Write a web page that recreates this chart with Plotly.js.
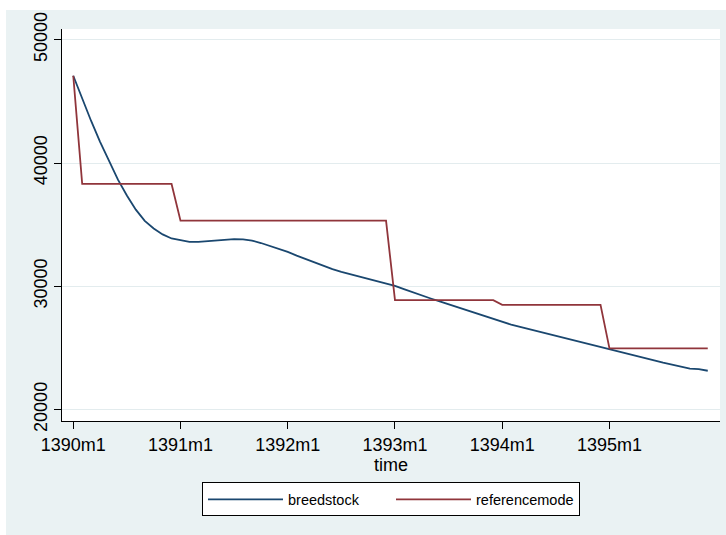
<!DOCTYPE html>
<html>
<head>
<meta charset="utf-8">
<script src="https://cdn.plot.ly/plotly-3.0.1.min.js"></script>
<style>
  html, body { margin: 0; padding: 0; background: #ffffff; }
  #chart { position: absolute; left: 6px; top: 10px; width: 720px; height: 525px; }
</style>
</head>
<body>
<div id="chart"></div>
<script>
// Month positions: 0 = 1390m1 ... 71 = 1395m12
const monthIndex = Array.from({length: 72}, (_, i) => i);

const tickPositions = [0, 12, 24, 36, 48, 60];
const tickLabels = ["1390m1", "1391m1", "1392m1", "1393m1", "1394m1", "1395m1"];
const yTicks = [20000, 30000, 40000, 50000];
const yTickLabels = ["20000", "30000", "40000", "50000"];

const breedstock = [
  47080, 45220, 43410, 41720, 40140, 38650, 37360, 36220, 35310, 34690, 34210, 33880,
  33750, 33610, 33600, 33660, 33710, 33770, 33820, 33810, 33710, 33510, 33280, 33040,
  32790, 32490, 32210, 31920, 31630, 31390, 31170, 30980, 30800, 30610, 30420, 30240,
  30040, 29770, 29500, 29250, 29010, 28770, 28530, 28300, 28060, 27820, 27570, 27330,
  27090, 26890, 26710, 26530, 26350, 26180, 25990, 25810, 25630, 25440, 25280, 25120,
  24960, 24750, 24560, 24360, 24180, 24000, 23810, 23650, 23490, 23320, 23280, 23150
];

const referencemode = [
  47080, 38300, 38300, 38300, 38300, 38300, 38300, 38300, 38300, 38300, 38300, 38300,
  35320, 35320, 35320, 35320, 35320, 35320, 35320, 35320, 35320, 35320, 35320, 35320,
  35320, 35320, 35320, 35320, 35320, 35320, 35320, 35320, 35320, 35320, 35320, 35320,
  28880, 28880, 28880, 28880, 28880, 28880, 28880, 28880, 28880, 28880, 28880, 28880,
  28500, 28500, 28500, 28500, 28500, 28500, 28500, 28500, 28500, 28500, 28500, 28500,
  24960, 24960, 24960, 24960, 24960, 24960, 24960, 24960, 24960, 24960, 24960, 24960
];

const FONT = '"Liberation Sans", Arial, Helvetica, sans-serif';

const traces = [
  { x: monthIndex, y: breedstock, name: "breedstock", type: "scatter", mode: "lines",
    line: { color: "#1a476f", width: 1.8 } },
  { x: monthIndex, y: referencemode, name: "referencemode", type: "scatter", mode: "lines",
    line: { color: "#90353b", width: 1.8 } }
];

const layout = {
  width: 720, height: 525,
  margin: { l: 56, r: 6, t: 19, b: 114, pad: 0 },
  paper_bgcolor: "#eaf2f3",
  plot_bgcolor: "#ffffff",
  font: { family: FONT, color: "#000000", size: 18 },
  showlegend: true,
  legend: {
    orientation: "h", x: 0.5, xanchor: "center", y: -0.1566, yanchor: "top",
    bgcolor: "#ffffff", bordercolor: "#000000", borderwidth: 1,
    font: { family: FONT, size: 14.5, color: "#000000" },
    itemwidth: 75,
    entrywidthmode: "pixels", entrywidth: 98
  },
  xaxis: {
    range: [-1.26, 72.37],
    tickmode: "array", tickvals: tickPositions, ticktext: tickLabels,
    showgrid: false, zeroline: false,
    showline: true, linecolor: "#000000", linewidth: 1,
    ticks: "outside", ticklen: 7, tickwidth: 1, tickcolor: "#000000",
    tickfont: { family: FONT, size: 18, color: "#000000" },
    title: { text: "time", font: { family: FONT, size: 18, color: "#000000" }, standoff: 2 },
    automargin: false
  },
  yaxis: {
    range: [19074, 50869],
    tickmode: "array", tickvals: yTicks, ticktext: yTickLabels,
    tickangle: -90,
    showgrid: true, gridcolor: "#e3ecee", gridwidth: 1,
    zeroline: false,
    showline: true, linecolor: "#000000", linewidth: 1,
    ticks: "outside", ticklen: 7, tickwidth: 1, tickcolor: "#000000",
    tickfont: { family: FONT, size: 18, color: "#000000" },
    automargin: false
  }
};

Plotly.newPlot("chart", traces, layout, { displayModeBar: false, staticPlot: true });
</script>
</body>
</html>
